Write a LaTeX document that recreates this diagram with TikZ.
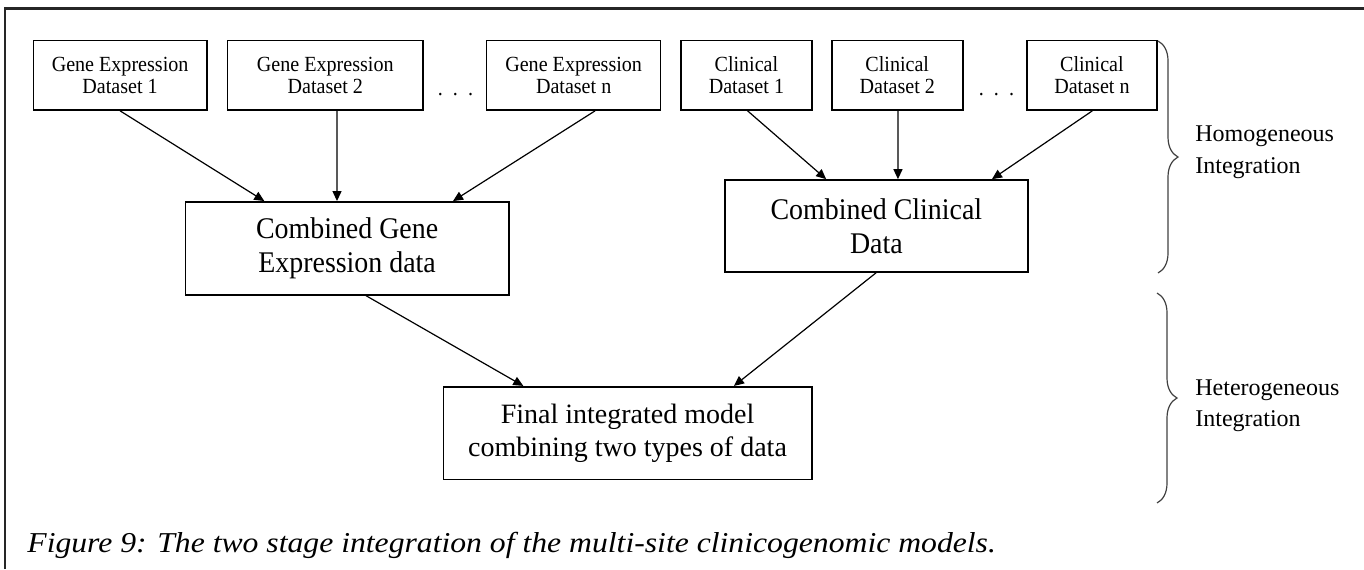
\documentclass[tikz,border=0pt]{standalone}
\usepackage{fontspec}
\setmainfont{Liberation Serif}
\newfontfamily\bxf[FakeStretch=0.93]{Liberation Serif}
\newfontfamily\capf[FakeStretch=1.1]{Liberation Serif}
\usetikzlibrary{arrows.meta,decorations.pathreplacing}
\begin{document}
\begin{tikzpicture}[x=0.5pt,y=-0.5pt,
  smallbox/.style={draw, line width=0.8pt, inner sep=0pt, align=center,
    minimum height=34.7pt, font=\bxf\fontsize{10.8}{11.2}\selectfont},
  bigbox/.style={draw, line width=0.8pt, inner sep=0pt, align=center,
    minimum height=46.5pt, font=\bxf\fontsize{15}{17}\selectfont},
  finbox/.style={draw, line width=0.8pt, inner sep=0pt, align=center,
    minimum height=46.3pt, font=\fontsize{14}{16.5}\selectfont},
  arr/.style={line width=0.6pt, -{Triangle[length=5pt,width=4.5pt]}},
  dotsl/.style={font=\bxf\fontsize{10.8}{11.2}\selectfont, inner sep=0pt},
  bracel/.style={line width=0.6pt, draw=black!75, decorate,
    decoration={brace, amplitude=10pt}},
  sidel/.style={anchor=north west, inner sep=0pt, align=left,
    font=\fontsize{12}{16}\selectfont},
]
\useasboundingbox (0,0) rectangle (1364,569);
% frame
\draw[line width=1.1pt, black!85] (5,569) -- (5,8.5) -- (1364,8.5);

% first row
\node[smallbox, minimum width=86.6pt] (ge1) at (120.1,75.35) {Gene Expression\\Dataset 1};
\node[smallbox, minimum width=97.6pt] (ge2) at (325.25,75.35) {Gene Expression\\Dataset 2};
\node[dotsl] (d1) at (455.5,95) {.\hspace{5pt}.\hspace{5pt}.};
\node[smallbox, minimum width=87pt] (gen) at (573.65,75.35) {Gene Expression\\Dataset n};
\node[smallbox, minimum width=65.4pt] (cl1) at (746.4,75.35) {Clinical\\Dataset 1};
\node[smallbox, minimum width=65.5pt] (cl2) at (897.25,75.35) {Clinical\\Dataset 2};
\node[dotsl] (d2) at (996.5,95) {.\hspace{5pt}.\hspace{5pt}.};
\node[smallbox, minimum width=65pt] (cln) at (1091.9,75.35) {Clinical\\Dataset n};

% combined
\node[bigbox, minimum width=161.8pt] (cge) at (347.1,248.35) {Combined Gene\\Expression data};
\node[bigbox, minimum width=151.4pt, minimum height=45.9pt] (ccl) at (876.35,225.85) {Combined Clinical\\Data};

% final
\node[finbox, minimum width=184.2pt] (fin) at (627.5,433) {Final integrated model\\combining two types of data};

% arrows
\draw[arr] (ge1.south) -- ([xshift=-41.4pt]cge.north);
\draw[arr] ([xshift=5.9pt]ge2.south) -- ([xshift=-5.05pt]cge.north);
\draw[arr] ([xshift=10.7pt]gen.south) -- ([xshift=52.95pt]cge.north);
\draw[arr] ([xshift=0.6pt]cl1.south) -- ([xshift=-25.1pt]ccl.north);
\draw[arr] ([xshift=0.4pt]cl2.south) -- ([xshift=10.8pt]ccl.north);
\draw[arr] ([xshift=0.2pt]cln.south) -- ([xshift=57.8pt]ccl.north);
\draw[arr] ([xshift=9.45pt]cge.south) -- ([xshift=-52.1pt]fin.north);
\draw[arr] (ccl.south) -- ([xshift=53.25pt]fin.north);

% braces
\coordinate (b1t) at (1158,41);
\coordinate (b1b) at (1158,273);
\coordinate (b2t) at (1157,293);
\coordinate (b2b) at (1157,503);
\draw[bracel] (b1t) -- (b1b);
\draw[bracel] (b2t) -- (b2b);
\node[sidel] (hom) at (1195,125.8) {Homogeneous\\Integration};
\node[sidel, font=\fontsize{12}{15.5}\selectfont] (het) at (1195,379.8) {Heterogeneous\\Integration};

% caption
\node[anchor=base west, inner sep=0pt, font=\capf\itshape\fontsize{14.4}{16}\selectfont] (cap) at (27,552)
  {Figure 9: The two stage integration of the multi-site clinicogenomic models.};
\end{tikzpicture}
\end{document}
